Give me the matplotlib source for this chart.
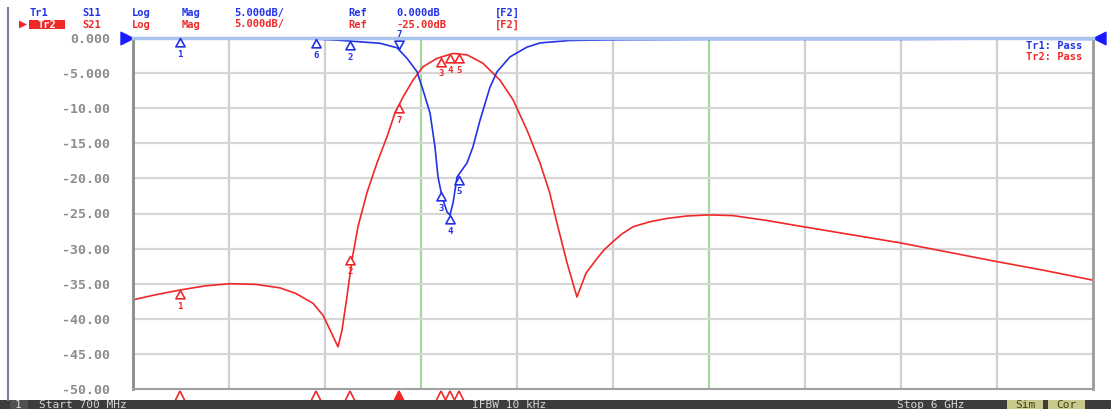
import numpy as np
import matplotlib
matplotlib.use("Agg")
import matplotlib.pyplot as plt
from matplotlib.path import Path
from matplotlib.patches import Rectangle, Polygon
from matplotlib.transforms import blended_transform_factory

W, H = 1111, 409

# Tr1: S11, frequency in MHz, level in dB
s11_freq = [700, 1346, 1622, 1826, 2064, 2158, 2213, 2268, 2301, 2340, 2367, 2384,
            2406, 2434, 2450, 2467, 2489, 2544, 2577, 2616, 2671, 2710, 2781, 2875,
            2947, 3113, 3389, 3830, 4935, 5487, 6000]
s11_db = [0.0, 0.0, -0.05, -0.3, -0.75, -1.4, -2.9, -4.8, -7.4, -10.7, -15.5, -19.8,
          -22.6, -24.8, -25.2, -23.5, -19.8, -17.8, -15.5, -11.7, -7.0, -4.8, -2.7, -1.3,
          -0.7, -0.35, -0.25, -0.2, -0.2, -0.15, -0.2]

# Tr2: S21
s21_freq = [700, 820, 960, 1100, 1236, 1380, 1512, 1600, 1694, 1749, 1788, 1832,
            1854, 1881, 1909, 1942, 1992, 2047, 2102, 2146, 2191, 2246, 2301, 2378,
            2467, 2544, 2632, 2726, 2798, 2875, 2947, 3000, 3041, 3096, 3151, 3201,
            3262, 3300, 3350, 3400, 3460, 3550, 3648, 3760, 3880, 4012, 4200, 4404,
            4660, 4940, 5200, 5459, 5730, 6000]
s21_db = [-37.3, -36.6, -35.9, -35.3, -35.0, -35.1, -35.6, -36.4, -37.8, -39.5, -41.6, -44.0,
          -41.6, -36.9, -31.6, -26.9, -22.0, -17.8, -14.1, -10.7, -8.4, -6.0, -4.1, -2.9,
          -2.2, -2.4, -3.6, -6.0, -8.8, -13.1, -17.8, -22.0, -26.4, -32.0, -36.9, -33.5,
          -31.4, -30.2, -29.0, -27.9, -26.9, -26.2, -25.7, -25.35, -25.2, -25.3, -26.0, -26.9,
          -28.0, -29.2, -30.5, -31.8, -33.1, -34.5]

# markers
marker_ids = ["1", "6", "2", "7", "3", "4", "5"]
marker_freq = [960, 1710, 1900, 2170, 2400, 2450, 2500]
s11_marker_db = [0.0, -0.1, -0.4, -1.5, -21.9, -25.2, -19.6]
s21_marker_ids = ["1", "2", "7", "3", "4", "5"]
s21_marker_freq = [960, 1900, 2170, 2400, 2450, 2500]
s21_marker_db = [-35.9, -31.0, -9.4, -2.8, -2.3, -2.3]
active_marker = "7"

ytick_vals = [0, -5, -10, -15, -20, -25, -30, -35, -40, -45, -50]
ytick_labels = ["0.000", "-5.000", "-10.00", "-15.00", "-20.00", "-25.00",
                "-30.00", "-35.00", "-40.00", "-45.00", "-50.00"]

header_tr1 = ["Tr1", "S11", "Log", "Mag", "5.000dB/", "Ref", "0.000dB", "[F2]"]
header_tr2 = ["S21", "Log", "Mag", "5.000dB/", "Ref", "-25.00dB", "[F2]"]

BLUE = "#2233e6"
RED = "#f02828"
MONO = "DejaVu Sans Mono"

fig = plt.figure(figsize=(W / 100, H / 100), dpi=100)
fig.patch.set_facecolor("white")

ax = fig.add_axes([133 / W, 1 - 389 / H, 960 / W, 351 / H])
ax.set_xlim(700, 6000)
ax.set_ylim(-50, 0)

# graticule
xdiv = np.linspace(700, 6000, 11)
for k, xv in enumerate(xdiv[1:-1], start=1):
    col = "#a8d8a0" if k in (3, 6) else "#cfcfcf"
    ax.axvline(xv, color=col, lw=1.6, zorder=1)
for yv in ytick_vals[1:-1]:
    ax.axhline(yv, color="#d6d6d6", lw=1.6, zorder=1)

ax.set_xticks([])
ax.set_yticks(ytick_vals)
ax.set_yticklabels(ytick_labels, family=MONO, fontweight="bold", fontsize=9.5)
ax.tick_params(axis="y", length=0, pad=16.5, labelcolor="#8c8c8c")

ax.spines["left"].set_color("#8a8a8a")
ax.spines["left"].set_linewidth(2)
ax.spines["right"].set_color("#9a9a9a")
ax.spines["right"].set_linewidth(2)
ax.spines["bottom"].set_color("#a0a0a0")
ax.spines["bottom"].set_linewidth(1.5)
ax.spines["top"].set_color("#a8c4ee")
ax.spines["top"].set_linewidth(2.5)

# traces
ax.plot(s21_freq, s21_db, color=RED, lw=1.2, zorder=2)
ax.plot(s11_freq, s11_db, color=BLUE, lw=1.2, zorder=2)

# marker glyphs: apex sits on the trace
tri_below = Path([(0, 0), (-0.55, -1), (0.55, -1), (0, 0)],
                 [Path.MOVETO, Path.LINETO, Path.LINETO, Path.CLOSEPOLY])
tri_above = Path([(0, 0), (-0.55, 1), (0.55, 1), (0, 0)],
                 [Path.MOVETO, Path.LINETO, Path.LINETO, Path.CLOSEPOLY])


def draw_markers(ids, freqs, levels, color):
    for mid, f, lv in zip(ids, freqs, levels):
        above = mid == active_marker and color == BLUE
        ax.plot([f], [lv], ls="none", marker=tri_above if above else tri_below,
                ms=12, mfc="white", mec=color, mew=1.2, clip_on=False, zorder=4)
        ax.annotate(mid, (f, lv), xytext=(0, 7 if above else -8.5),
                    textcoords="offset points", ha="center",
                    va="bottom" if above else "top", fontsize=6.5,
                    family=MONO, fontweight="bold", color=color, zorder=5,
                    annotation_clip=False)


draw_markers(marker_ids, marker_freq, s11_marker_db, BLUE)
draw_markers(s21_marker_ids, s21_marker_freq, s21_marker_db, RED)

# stimulus markers under the grid
btrans = blended_transform_factory(ax.transData, ax.transAxes)
for mid, f in zip(marker_ids, marker_freq):
    filled = mid == active_marker
    ax.plot([f], [-0.019], ls="none", marker="^", ms=7, transform=btrans,
            mfc=RED if filled else "white", mec=RED, mew=1.2, clip_on=False)

# reference position arrows
ref_left = Path([(0, 0), (-1, 0.5), (-1, -0.5), (0, 0)],
                [Path.MOVETO, Path.LINETO, Path.LINETO, Path.CLOSEPOLY])
ref_right = Path([(0, 0), (1, 0.5), (1, -0.5), (0, 0)],
                 [Path.MOVETO, Path.LINETO, Path.LINETO, Path.CLOSEPOLY])
ax.plot([0], [1], marker=ref_left, ms=18, color="#1a1aff", transform=ax.transAxes, clip_on=False)
ax.plot([1], [1], marker=ref_right, ms=18, color="#1a1aff", transform=ax.transAxes, clip_on=False)

# overlay in pixel coordinates for the instrument decorations
ov = fig.add_axes([0, 0, 1, 1], zorder=5)
ov.set_xlim(0, W)
ov.set_ylim(H, 0)
ov.axis("off")
ov.patch.set_alpha(0)

ov.plot([8, 8], [8, 400], color="#7a7aa8", lw=1.5)

tkw = dict(family=MONO, fontweight="bold", fontsize=7.5, va="center")
word_x = [30, 82, 132, 182, 234, 348, 396, 495]
for wx, w in zip(word_x, header_tr1):
    ov.text(wx, 13, w, color=BLUE, **tkw)
for wx, w in zip(word_x[1:], header_tr2):
    ov.text(wx, 24.5, w, color=RED, **tkw)
ov.add_patch(Rectangle((29, 20), 36, 9, color=RED, lw=0))
ov.text(47, 24.5, "Tr2", color="white", ha="center", **tkw)
ov.add_patch(Polygon([(19, 20.5), (27, 24.5), (19, 28.5)], closed=True, color=RED, lw=0))

ov.text(1082, 46, "Tr1: Pass", color=BLUE, ha="right", **tkw)
ov.text(1082, 57, "Tr2: Pass", color=RED, ha="right", **tkw)

# status bar
ov.add_patch(Rectangle((0, 400), W, 9, color="#3c3c3c", lw=0))
ov.add_patch(Rectangle((10, 400), 18, 9, color="#505050", lw=0))
skw = dict(family=MONO, fontsize=8, va="center", color="#d6d6d6")
ov.text(18, 405.5, "1", ha="center", **skw)
ov.text(39, 405.5, "Start 700 MHz", **skw)
ov.text(472, 405.5, "IFBW 10 kHz", **skw)
ov.text(897, 405.5, "Stop 6 GHz", **skw)
ov.add_patch(Rectangle((1007, 400), 36, 9, color="#c8c88a", lw=0))
ov.add_patch(Rectangle((1048, 400), 37, 9, color="#c8c88a", lw=0))
ov.text(1025, 405.5, "Sim", ha="center", family=MONO, fontsize=8, va="center", color="#404020")
ov.text(1066.5, 405.5, "Cor", ha="center", family=MONO, fontsize=8, va="center", color="#404020")

fig.savefig("out.png", dpi=100)
